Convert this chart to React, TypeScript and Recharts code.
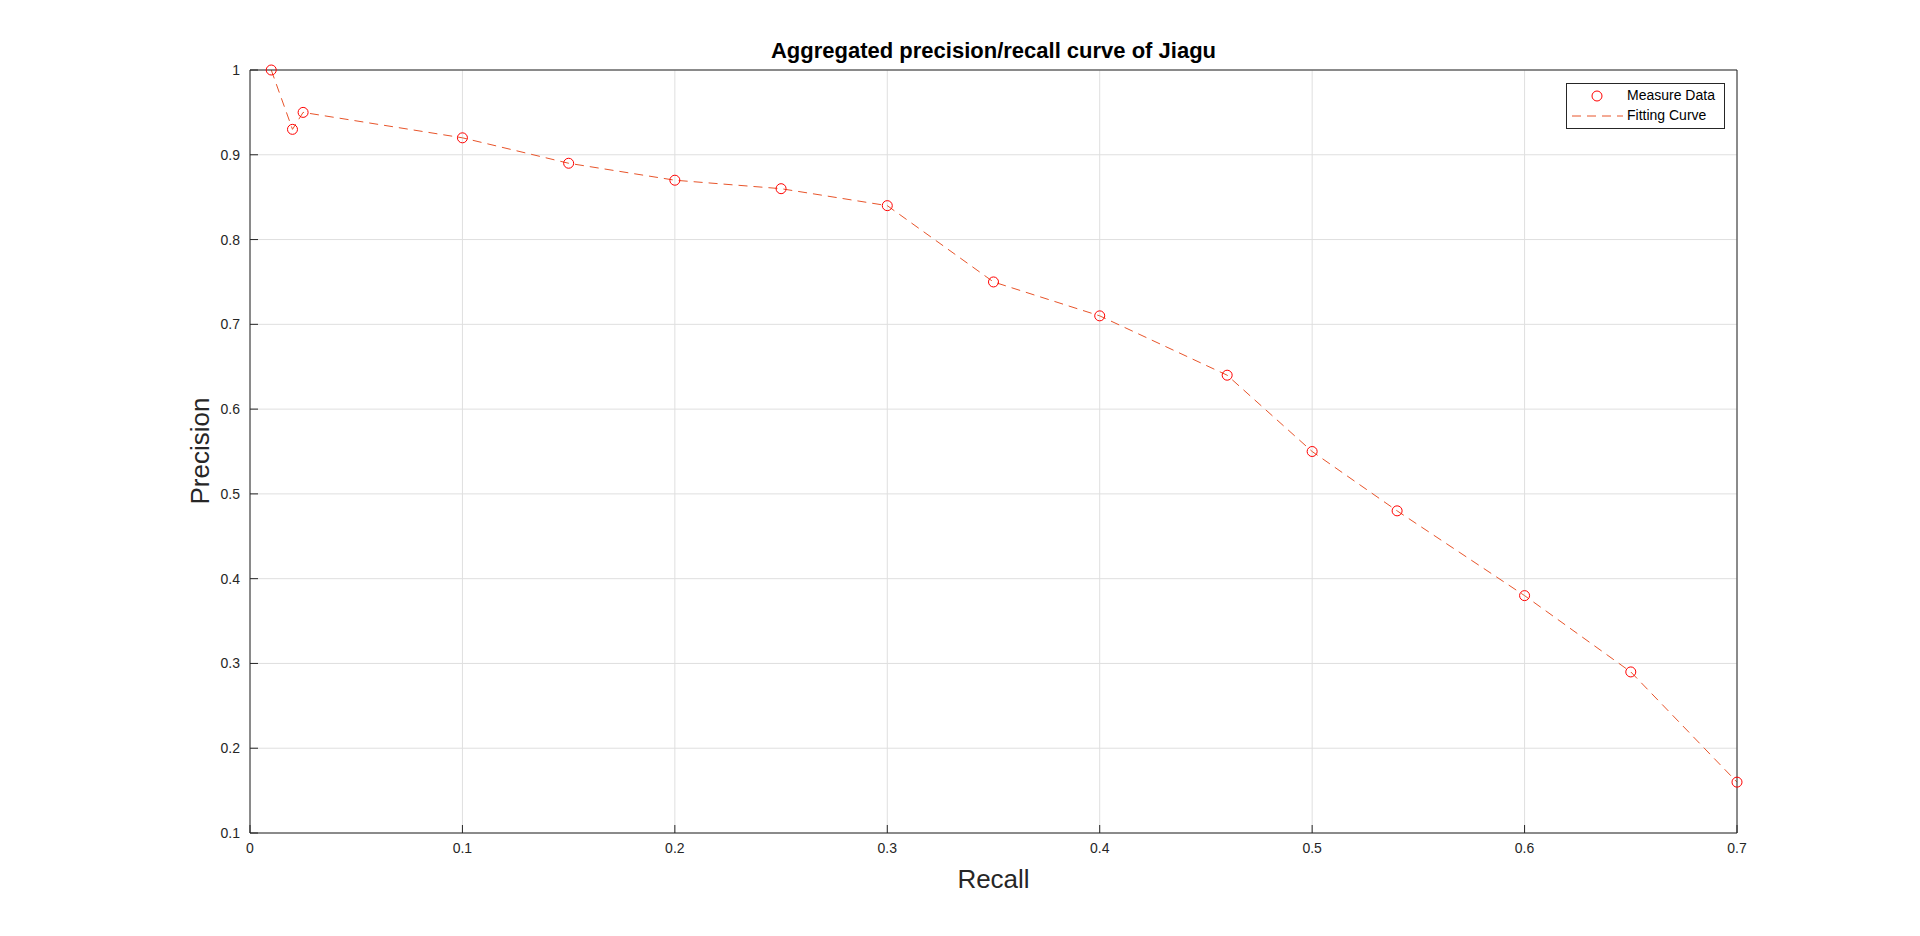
import React from "react";
import { ComposedChart, Line, XAxis, YAxis, CartesianGrid } from "recharts";

const recall = [0.01, 0.02, 0.025, 0.1, 0.15, 0.2, 0.25, 0.3, 0.35, 0.4, 0.46, 0.5, 0.54, 0.6, 0.65, 0.7];
const precision = [1, 0.93, 0.95, 0.92, 0.89, 0.87, 0.86, 0.84, 0.75, 0.71, 0.64, 0.55, 0.48, 0.38, 0.29, 0.16];
const xTicks = [0, 0.1, 0.2, 0.3, 0.4, 0.5, 0.6, 0.7];
const yTicks = [0.1, 0.2, 0.3, 0.4, 0.5, 0.6, 0.7, 0.8, 0.9, 1];

const data = recall.map((x, i) => ({ x, y: precision[i] }));
const font = "Arial, 'Liberation Sans', sans-serif";
const tickStyle = { fontSize: 14, fill: "#262626", fontFamily: font };

const Dot = (p: any) => (
  <circle cx={p.cx} cy={p.cy} r={5} fill="none" stroke="#ff0000" strokeWidth={1} />
);

export default function App() {
  return (
    <div style={{ position: "absolute", left: 0, top: 0, width: 1920, height: 936, background: "#fff", fontFamily: font }}>
      <ComposedChart width={1920} height={936} data={data} margin={{ left: 190, top: 69, right: 182, bottom: 73 }}>
        <CartesianGrid stroke="#dfdfdf" horizontal vertical />
        <XAxis type="number" dataKey="x" domain={[0, 0.7]} ticks={xTicks} tick={tickStyle} height={30}
          axisLine={{ stroke: "#262626" }} tickLine={{ stroke: "#262626" }} tickSize={-8} tickMargin={18}
          tickFormatter={(v: number) => String(+v.toFixed(1))} />
        <XAxis xAxisId="t" orientation="top" type="number" dataKey="x" domain={[0, 0.7]} ticks={xTicks} tick={false}
          axisLine={{ stroke: "#262626" }} tickLine={{ stroke: "#262626" }} tickSize={-8} height={1} />
        <YAxis type="number" domain={[0.1, 1]} ticks={yTicks} tick={tickStyle} width={60}
          axisLine={{ stroke: "#262626" }} tickLine={{ stroke: "#262626" }} tickSize={-8} tickMargin={18}
          tickFormatter={(v: number) => String(+v.toFixed(1))} />
        <YAxis yAxisId="r" orientation="right" type="number" domain={[0.1, 1]} ticks={yTicks} tick={false}
          axisLine={{ stroke: "#262626" }} tickLine={{ stroke: "#262626" }} tickSize={-8} width={1} />
        <Line type="linear" dataKey="y" stroke="#e8542a" strokeWidth={1}
          strokeDasharray="9 6" dot={<Dot />} activeDot={false} isAnimationActive={false} />
      </ComposedChart>
      <div style={{ position: "absolute", left: 250, width: 1487, top: 38, textAlign: "center", fontSize: 22, fontWeight: "bold", color: "#000" }}>
        Aggregated precision/recall curve of Jiagu
      </div>
      <div style={{ position: "absolute", left: 250, width: 1487, top: 864, textAlign: "center", fontSize: 26, color: "#262626" }}>
        Recall
      </div>
      <div style={{ position: "absolute", left: 200, top: 451, transform: "translate(-50%,-50%) rotate(-90deg)", fontSize: 26, color: "#262626", whiteSpace: "nowrap" }}>
        Precision
      </div>
      <div style={{ position: "absolute", left: 1566, top: 83, width: 157, height: 44, border: "1px solid #262626", background: "#fff", fontSize: 14, color: "#000" }}>
        <div style={{ position: "absolute", left: 0, top: 4, width: 60, height: 16 }}>
          <svg width={60} height={16}><circle cx={30} cy={8} r={5} fill="none" stroke="#ff0000" /></svg>
        </div>
        <div style={{ position: "absolute", left: 60, top: 3 }}>Measure Data</div>
        <div style={{ position: "absolute", left: 0, top: 24, width: 60, height: 16 }}>
          <svg width={60} height={16}><line x1={5} x2={56} y1={8} y2={8} stroke="#e8542a" strokeDasharray="9 6" /></svg>
        </div>
        <div style={{ position: "absolute", left: 60, top: 23 }}>Fitting Curve</div>
      </div>
    </div>
  );
}
